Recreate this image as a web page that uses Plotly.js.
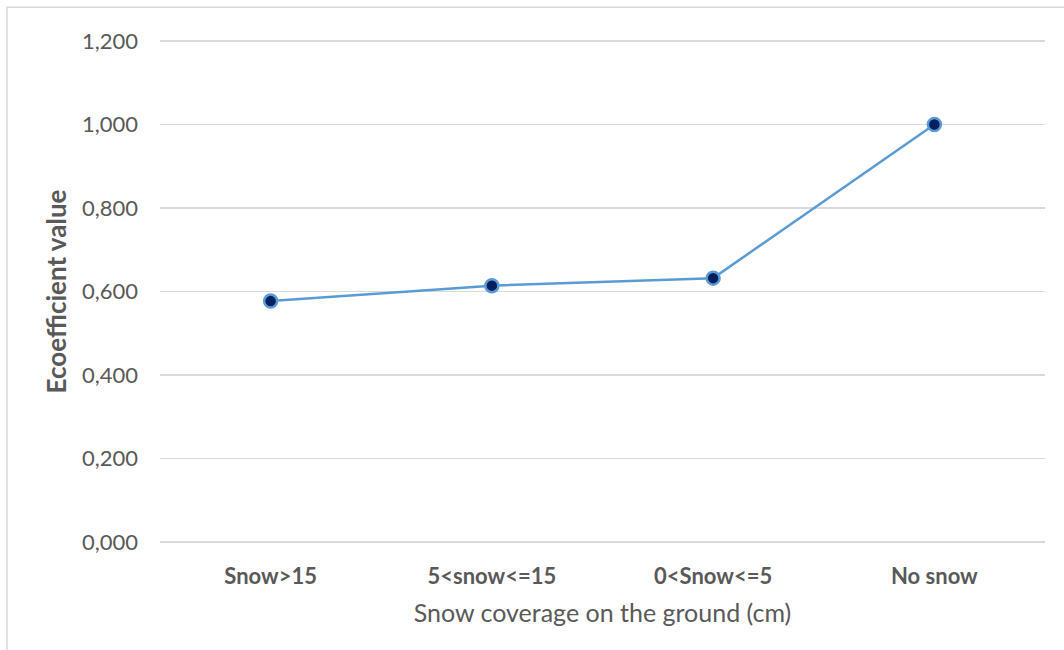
<!DOCTYPE html>
<html>
<head>
<meta charset="utf-8">
<script src="https://cdn.plot.ly/plotly-3.0.1.min.js"></script>
<style>html,body{margin:0;padding:0;background:#fff;}#chart{width:1064px;height:650px;}</style>
</head>
<body>
<div id="chart"></div>
<script>
const categories = ["Snow>15", "5<snow<=15", "0<Snow<=5", "No snow"];
const values = [0.577, 0.614, 0.632, 1.0];
const yTicks = [0, 0.2, 0.4, 0.6, 0.8, 1.0, 1.2];

const FONT = "Lato, 'Open Sans', sans-serif";
const GREY = "#595959";

const trace = {
  type: "scatter",
  mode: "lines+markers",
  x: categories,
  y: values,
  line: {color: "#5B9BD5", width: 2.5},
  marker: {size: 13, color: "#002060", line: {color: "#5B9BD5", width: 2.5}},
  hoverinfo: "skip"
};

const layout = {
  width: 1064, height: 650,
  margin: {l: 160, r: 19, t: 39, b: 106},
  paper_bgcolor: "#fff", plot_bgcolor: "#fff",
  separators: ",.",
  showlegend: false,
  font: {family: FONT, color: GREY},
  xaxis: {
    type: "category",
    range: [-0.5, 3.5],
    showgrid: false, zeroline: false, showline: false,
    ticks: "",
    tickfont: {family: FONT, size: 22, color: GREY, weight: "bold"},
    ticklabelstandoff: 17,
    title: {text: "Snow coverage on the ground (cm)", font: {family: FONT, size: 25, color: GREY}, standoff: 16}
  },
  yaxis: {
    range: [-0.005, 1.205],
    tickvals: yTicks,
    tickformat: ".3f",
    showgrid: true, gridcolor: "#D9D9D9", gridwidth: 1.5,
    zeroline: false, showline: false,
    ticks: "",
    tickfont: {family: FONT, size: 22, color: GREY},
    ticklabelstandoff: 21,
    title: {text: "Ecoefficient value", font: {family: FONT, size: 26, color: GREY, weight: "bold"}, standoff: 7}
  },
  shapes: [{
    type: "rect", xref: "paper", yref: "paper",
    x0: -0.1729, x1: 1.1, y0: -0.4, y1: 1.063,
    line: {color: "#D9D9D9", width: 1.5}, fillcolor: "rgba(0,0,0,0)", layer: "below"
  }]
};

Plotly.newPlot("chart", [trace], layout, {displayModeBar: false, staticPlot: true});
</script>
</body>
</html>
